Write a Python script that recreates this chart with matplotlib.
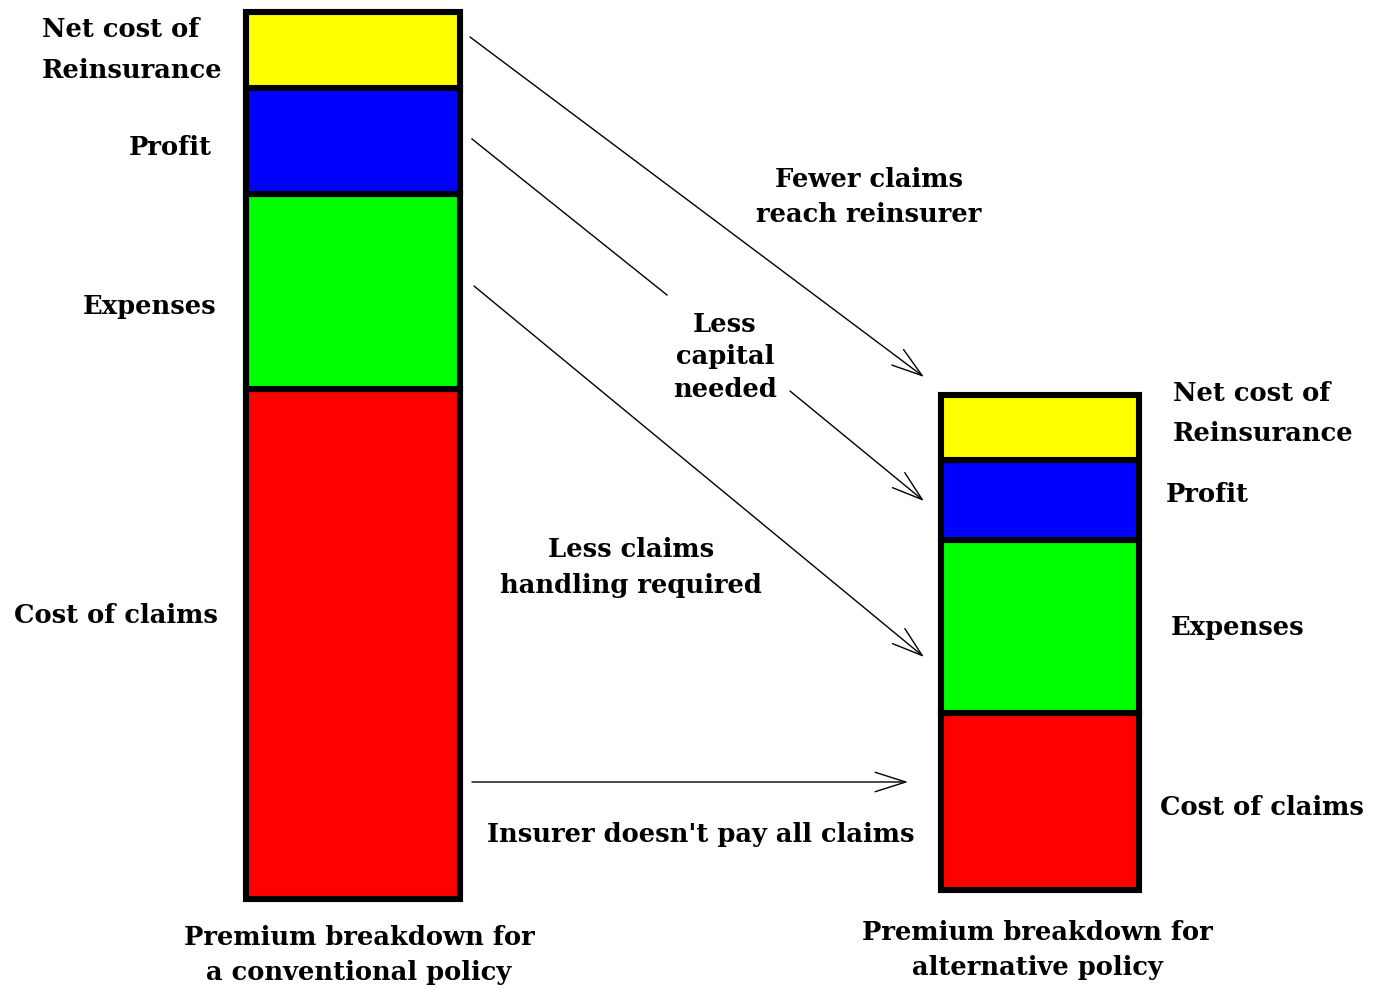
import matplotlib.pyplot as plt

# Premium breakdown, bottom to top
parts = ['Cost of claims', 'Expenses', 'Profit', 'Net cost of\nReinsurance']
colours = ['#ff0000', '#00ff00', '#0000ff', '#ffff00']
conventional = [510, 195, 106, 76]
alternative = [177, 173, 80, 65]

W, H = 1374, 995
fig = plt.figure(figsize=(W / 100, H / 100), dpi=100)
ax = fig.add_axes([0, 0, 1, 1])
ax.set_xlim(0, W)
ax.set_ylim(0, H)
ax.axis('off')

font = dict(family='DejaVu Serif', fontweight='bold', fontsize=18.5, color='black')

def stack(x0, width, base, values):
    bottom = base
    for v, c in zip(values, colours):
        ax.bar(x0, v, width=width, bottom=bottom, align='edge', color=c,
               edgecolor='black', linewidth=4.4, zorder=2)
        bottom += v

stack(246, 214, H - 900, conventional)
stack(941, 198, H - 891, alternative)

# label anchors (pixel rows from the top)
left_pos = [(218, 616, 'right'), (216, 307, 'right'), (212, 148, 'right'), (42, 50, 'left')]
right_pos = [(1160, 808), (1171, 628), (1166, 495), (1173, 414)]

for (x, y, ha), name in zip(left_pos, parts):
    ax.text(x, H - y, name, ha=ha, va='center', linespacing=1.8, **font)

for (x, y), name in zip(right_pos, parts):
    ax.text(x, H - y, name, ha='left', va='center', linespacing=1.75, **font)

def arrow(x1, y1, x2, y2):
    ax.annotate('', xy=(x2, H - y2), xytext=(x1, H - y1),
                arrowprops=dict(arrowstyle='->,head_length=2.2,head_width=0.7',
                                color='black', lw=1.0, shrinkA=0, shrinkB=0))

arrow(470, 38, 924, 378)
ax.plot([472, 667], [H - 140, H - 296], color='black', lw=1.0)
arrow(790, 392, 924, 502)
arrow(474, 287, 924, 658)
arrow(472, 783, 908, 783)

ax.text(869, H - 197, 'Fewer claims\nreach reinsurer', ha='center', va='center', linespacing=1.46, **font)
ax.text(725, H - 357, 'Less\ncapital\nneeded', ha='center', va='center', linespacing=1.38, **font)
ax.text(631, H - 568, 'Less claims\nhandling required', ha='center', va='center', linespacing=1.55, **font)
ax.text(701, H - 835, "Insurer doesn't pay all claims", ha='center', va='center', **font)

ax.text(359, H - 955, 'Premium breakdown for\na conventional policy', ha='center', va='center', linespacing=1.46, **font)
ax.text(1037, H - 950, 'Premium breakdown for\nalternative policy', ha='center', va='center', linespacing=1.46, **font)

fig.savefig('out.png', dpi=100, facecolor='white')
